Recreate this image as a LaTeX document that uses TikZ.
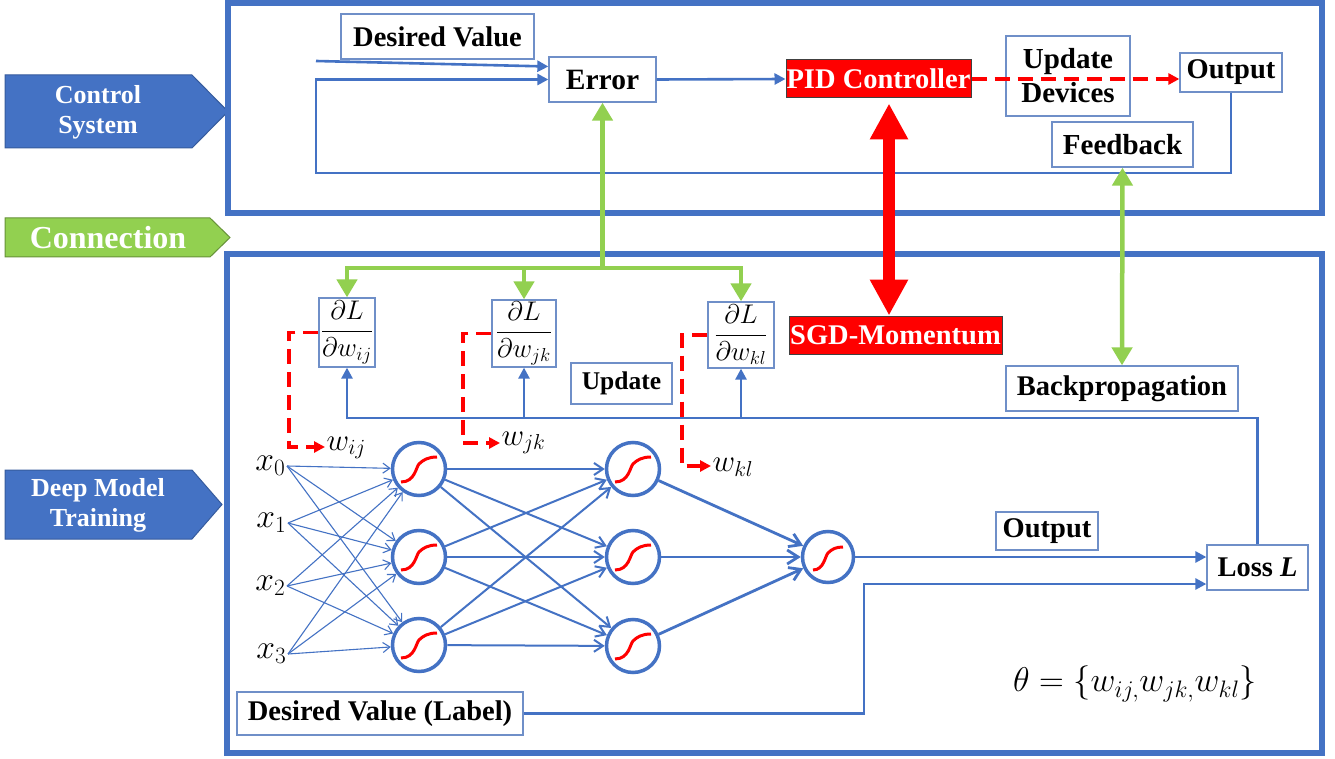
\documentclass[tikz,border=0pt]{standalone}
\usepackage{fontspec}
\setmainfont{Liberation Serif}
\usetikzlibrary{arrows.meta,calc}

\definecolor{cblue}{HTML}{4472C4}
\definecolor{cedge}{HTML}{6F8FC8}
\definecolor{cgreen}{HTML}{92D050}
\definecolor{cred}{HTML}{FF0000}

\newcommand{\pdfrac}[1]{\scalebox{1.3}{$\displaystyle\frac{\partial L}{\partial w_{#1}}$}}

\begin{document}
\begin{tikzpicture}[x=1pt,y=-1pt,
  txt/.style={font=\fontsize{28.5}{32}\selectfont\bfseries},
  box/.style={draw=cedge, line width=1.3pt, fill=white, inner sep=0pt, align=center, txt},
  redbox/.style={draw=black!75, line width=1pt, fill=cred, text=white, inner sep=0pt, txt},
  frame/.style={draw=cblue, line width=5.5pt},
  flow/.style={draw=cblue, line width=2.6pt, -{Triangle[length=11pt,width=11pt]}},
  reddash/.style={draw=cred, line width=3.5pt, dash pattern=on 15pt off 8pt, -{Triangle[length=11pt,width=11pt]}},
  gline/.style={draw=cgreen, line width=4.5pt},
  garrow/.style={gline, -{Triangle[length=18pt,width=20pt]}},
  gboth/.style={gline, {Triangle[length=18pt,width=20pt]}-{Triangle[length=18pt,width=20pt]}},
  neuron/.style={circle, draw=cblue, line width=3.5pt, fill=white, minimum size=53pt, inner sep=0pt},
  sig/.style={draw=cred, line width=3pt},
  inedge/.style={draw=cblue, line width=1.1pt, -{Straight Barb[length=7pt,width=10pt]}},
  midedge/.style={draw=cblue, line width=2pt, -{Straight Barb[length=9pt,width=12pt]}},
  outedge/.style={draw=cblue, line width=2.8pt, -{Straight Barb[length=11pt,width=14pt]}},
  tag/.style={font=\fontsize{26}{30}\selectfont\bfseries, text=white, align=center},
  mth/.style={inner sep=1pt, font=\fontsize{25}{28}\selectfont},
  frac/.style={font=\fontsize{20}{24}\selectfont}
]
\useasboundingbox[fill=white] (0,0) rectangle (1335,759);

% ---- section tags ----
\filldraw[fill=cblue, draw=cblue!80!black, line width=1pt]
  (5,75) -- (192,75) -- (228,111.5) -- (192,148) -- (5,148) -- cycle;
\node[tag] (tagcs) at (98,112) {Control\\System};
\filldraw[fill=cgreen, draw=cgreen!70!black, line width=1pt]
  (5,218) -- (210,218) -- (230,237.5) -- (210,257) -- (5,257) -- cycle;
\node[tag, font=\fontsize{32}{34}\selectfont\bfseries] (tagcn) at (108,238) {Connection};
\filldraw[fill=cblue, draw=cblue!80!black, line width=1pt]
  (5,470) -- (192,470) -- (222,504.5) -- (192,539) -- (5,539) -- cycle;
\node[tag] (tagdm) at (98,505) {Deep Model\\Training};

% ---- frames ----
\draw[frame] (228,3) rectangle (1322,213);
\draw[frame] (227,254) rectangle (1322,753);

% ---- control loop ----
\node[box, minimum width=193pt, minimum height=45pt] (dv) at (437.5,36.5) {Desired Value};
\node[box, minimum width=107pt, minimum height=45pt, font=\fontsize{29.5}{32}\selectfont\bfseries] (err) at (602.5,79.5) {Error};
\node[redbox, minimum width=185pt, minimum height=38pt] (pid) at (878.5,79) {PID Controller};
\node[box, minimum width=124pt, minimum height=80pt, font=\fontsize{29}{34}\selectfont\bfseries] (upd) at (1068,76) {Update\\Devices};
\node[box, minimum width=102pt, minimum height=39pt] (out) at (1231,72.5) {Output};
\node[box, minimum width=141pt, minimum height=45pt, font=\fontsize{29}{32}\selectfont\bfseries] (fb) at (1122.5,144.5) {Feedback};

\coordinate (dvin) at (316,61);
\coordinate (fbc) at (316,173);
\draw[flow] (dvin) -- ([yshift=13pt]err.west);
\draw[flow] (out.south) |- (fbc) |- (err.west);
\draw[flow] (err.east) -- (pid.west);
\draw[reddash] (pid.east) -- (pid.east -| out.west);

% ---- training side boxes ----
\node[redbox, minimum width=213pt, minimum height=38pt] (sgd) at (895.5,335) {SGD-Momentum};
\node[box, minimum width=232pt, minimum height=45pt] (bp) at (1122,388.5) {Backpropagation};
\node[box, minimum width=56pt, minimum height=69pt, frac] (dl1) at (347,332.5) {\pdfrac{ij}};
\node[box, minimum width=64pt, minimum height=67pt, frac] (dl2) at (524,333.5) {\pdfrac{jk}};
\node[box, minimum width=66pt, minimum height=66pt, frac] (dl3) at (741,335) {\pdfrac{kl}};
\node[box, minimum width=101pt, minimum height=41pt, font=\fontsize{25.5}{28}\selectfont\bfseries] (upl) at (621.5,383.5) {Update};
\node[box, minimum width=102pt, minimum height=38pt] (outb) at (1047,531) {Output};
\node[box, minimum width=101pt, minimum height=45pt] (loss) at (1257.5,567.5) {Loss \textit{L}};
\node[box, minimum width=286pt, minimum height=43pt] (lab) at (380,713.5) {Desired Value (Label)};
\node[font=\fontsize{25}{30}\selectfont, scale=1.38] (theta) at (1135,684) {$\theta=\Bigl\{w_{ij,}w_{jk,}w_{kl}\Bigr\}$};

% ---- network ----
\node[mth, anchor=east, scale=1.35] (x0) at (287,466) {$x_0$};
\node[mth, anchor=east, scale=1.35] (x1) at (288,523) {$x_1$};
\node[mth, anchor=east, scale=1.35] (x2) at (287,586) {$x_2$};
\node[mth, anchor=east, scale=1.35] (x3) at (288,654) {$x_3$};

\node[neuron] (h1) at (419,469) {};
\node[neuron] (h2) at (419,557) {};
\node[neuron] (h3) at (419,645) {};
\node[neuron] (g1) at (633,469) {};
\node[neuron] (g2) at (633,557) {};
\node[neuron] (g3) at (633,646) {};
\node[neuron, minimum size=51pt] (o) at (828,557) {};

\foreach \a in {x0,x1,x2,x3}
  \foreach \b in {h1,h2,h3}
    \draw[inedge] (\a.east) -- (\b);
\foreach \a in {h1,h2,h3}
  \foreach \b in {g1,g2,g3}
    \draw[midedge] (\a) -- (\b);
\foreach \a in {g1,g2,g3}
  \draw[outedge] (\a) -- (o);

% sigmoid glyphs inside the neurons
\foreach \n in {h1,h2,h3,g1,g2,g3}
  \draw[sig, shift={(\n.center)}] (-18,13) .. controls (-4,13) and (-3,-2) .. (0,-5) .. controls (4,-9) and (9,-12) .. (18,-12);
\draw[sig, shift={(o.center)}] (-15,13) .. controls (-4,13) and (-3,-1) .. (0,-4) .. controls (4,-8) and (8,-10) .. (15,-10);

% ---- loss paths ----
\coordinate (lk) at (864,584);
\draw[flow] (o.east) -- (o.east -| loss.west);
\draw[flow] (lab.east) -| (lk) -- (lk -| loss.west);
\coordinate (ub) at (0,418);
\draw[flow] (loss.north) |- (dl1.south |- ub) -- (dl1.south);
\draw[flow] (dl2.south |- ub) -- (dl2.south);
\draw[flow] (dl3.south |- ub) -- (dl3.south);

% ---- weight update paths ----
\node[mth, anchor=west, scale=1.25] (wij) at (325,448) {$w_{ij}$};
\node[mth, anchor=west, scale=1.25] (wjk) at (500,443) {$w_{jk}$};
\node[mth, anchor=west, scale=1.25] (wkl) at (711,467) {$w_{kl}$};
\coordinate (c1) at (289,447);
\coordinate (c2) at (463,443);
\coordinate (c3) at (682,466);
\draw[reddash] (dl1.west) -| (c1) -- (c1 -| wij.west);
\draw[reddash] (dl2.west) -| (c2) -- (c2 -| wjk.west);
\draw[reddash] (dl3.west) -| (c3) -- (c3 -| wkl.west);

% ---- connections between the two systems ----
\coordinate (gs) at (err.south |- 0,268);
\draw[garrow] (gs) -- (err.south);
\draw[gline, {Triangle[length=18pt,width=20pt]}-{Triangle[length=18pt,width=20pt]}]
  (dl1.north) |- (dl3.north |- gs) -- (dl3.north);
\draw[garrow] (dl2.north |- gs) -- (dl2.north);
\draw[gboth] (fb.south) -- (bp.north);
\draw[draw=cred, line width=12pt, {Triangle[length=36pt,width=36pt]}-{Triangle[length=36pt,width=36pt]}]
  ([xshift=10.5pt,yshift=-5pt]pid.south) -- ([xshift=-6.5pt]sgd.north);
\end{tikzpicture}
\end{document}
